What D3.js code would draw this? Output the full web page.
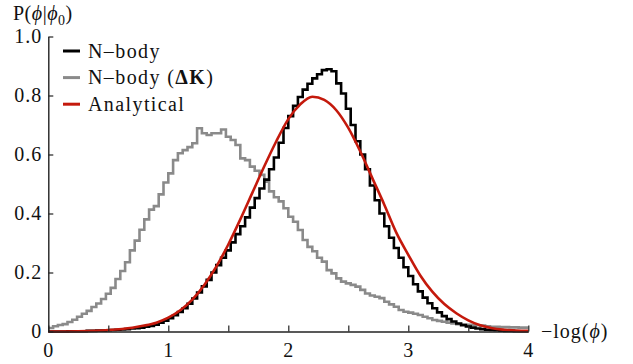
<!DOCTYPE html>
<html>
<head>
<meta charset="utf-8">
<script src="https://cdn.jsdelivr.net/npm/d3@7"></script>
<style>
  html, body { margin: 0; padding: 0; background: #fff; }
  svg text { font-family: "Liberation Serif", "Times New Roman", serif; fill: #111; }
</style>
</head>
<body>
<svg id="chart" width="633" height="364"></svg>
<script>
// ---- data ----
const binWidth = 0.04;

// N-body histogram (bin heights, bins of width 0.04 starting at 0)
const nbodyValues = [
  0, 0, 0, 0, 0.001, 0.001, 0.001, 0.001, 0.002, 0.002,
  0.003, 0.003, 0.004, 0.005, 0.006, 0.007, 0.008, 0.01, 0.011, 0.013,
  0.016, 0.019, 0.023, 0.03, 0.037, 0.045, 0.055, 0.066, 0.079, 0.094,
  0.112, 0.132, 0.153, 0.175, 0.2, 0.225, 0.25, 0.275, 0.302, 0.33,
  0.357, 0.387, 0.42, 0.452, 0.485, 0.515, 0.55, 0.59, 0.64, 0.69,
  0.73, 0.765, 0.795, 0.82, 0.84, 0.858, 0.872, 0.886, 0.889, 0.882,
  0.841, 0.807, 0.755, 0.70, 0.645, 0.60, 0.55, 0.495, 0.445, 0.40,
  0.357, 0.318, 0.283, 0.25, 0.218, 0.188, 0.16, 0.136, 0.115, 0.096,
  0.079, 0.065, 0.052, 0.042, 0.034, 0.027, 0.021, 0.017, 0.013, 0.01,
  0.008, 0.006, 0.005, 0.004, 0.003, 0.002, 0.002, 0.001, 0.001, 0.001
];

// N-body (ΔK) histogram
const nbodyDKValues = [
  0.012, 0.018, 0.022, 0.025, 0.032, 0.04, 0.05, 0.06, 0.07, 0.083,
  0.095, 0.11, 0.128, 0.148, 0.178, 0.205, 0.235, 0.275, 0.308, 0.345,
  0.38, 0.413, 0.425, 0.465, 0.505, 0.536, 0.581, 0.604, 0.615, 0.625,
  0.638, 0.689, 0.672, 0.666, 0.672, 0.672, 0.685, 0.66, 0.649, 0.632,
  0.587, 0.581, 0.559, 0.545, 0.531, 0.508, 0.475, 0.455, 0.441, 0.418,
  0.389, 0.372, 0.344, 0.31, 0.287, 0.272, 0.25, 0.237, 0.208, 0.197,
  0.18, 0.169, 0.163, 0.158, 0.152, 0.141, 0.129, 0.122, 0.118, 0.113,
  0.101, 0.092, 0.084, 0.073, 0.067, 0.064, 0.06, 0.056, 0.05, 0.045,
  0.039, 0.036, 0.033, 0.03, 0.027, 0.025, 0.024, 0.023, 0.022, 0.021,
  0.02, 0.018, 0.016, 0.016, 0.015, 0.015, 0.014, 0.014, 0.013, 0.013
];

// Analytical curve, sampled points
const analyticX = [0, 0.25, 0.5, 0.7, 0.8, 0.9, 1.0, 1.1, 1.2, 1.3, 1.4, 1.5, 1.6, 1.7, 1.8, 1.9,
  2.0, 2.1, 2.2, 2.3, 2.4, 2.5, 2.6, 2.7, 2.8, 2.9, 3.0, 3.1, 3.2, 3.3, 3.4, 3.5, 3.6, 3.7, 3.8, 3.9, 4.0];
const analyticY = [0, 0.001, 0.005, 0.013, 0.02, 0.03, 0.047, 0.072, 0.108, 0.158, 0.22, 0.295, 0.38, 0.47, 0.56, 0.645,
  0.72, 0.77, 0.796, 0.785, 0.75, 0.69, 0.61, 0.52, 0.43, 0.335, 0.26, 0.19, 0.135, 0.093, 0.062, 0.038, 0.021, 0.011, 0.006, 0.003, 0.002];

const xTicks = [0, 0.5, 1, 1.5, 2, 2.5, 3, 3.5, 4];
const yTicks = [0, 0.2, 0.4, 0.6, 0.8, 1.0];

const legendLabels = ["N–body", "N–body (", "Analytical"];
const colors = { nbody: "#000000", dk: "#8a8a8a", analytic: "#c4190c" };

// ---- drawing ----
const svg = d3.select("#chart");
const x = d3.scaleLinear().domain([0, 4]).range([48.3, 528.3]);
const y = d3.scaleLinear().domain([0, 1]).range([331.5, 36.5]);

function stepPoints(vals) {
  const pts = vals.map((v, i) => [i * binWidth, v]);
  pts.push([vals.length * binWidth, vals[vals.length - 1]]);
  return pts;
}

const stepLine = d3.line().x(d => x(d[0])).y(d => y(d[1])).curve(d3.curveStepAfter);

svg.append("path")
  .attr("d", stepLine(stepPoints(nbodyDKValues)))
  .attr("fill", "none").attr("stroke", colors.dk).attr("stroke-width", 2.6)
  .attr("stroke-linejoin", "miter");

svg.append("path")
  .attr("d", stepLine(stepPoints(nbodyValues)))
  .attr("fill", "none").attr("stroke", colors.nbody).attr("stroke-width", 2.6)
  .attr("stroke-linejoin", "miter");

const smooth = d3.line().x(d => x(d[0])).y(d => y(d[1])).curve(d3.curveMonotoneX);
svg.append("path")
  .attr("d", smooth(analyticX.map((v, i) => [v, analyticY[i]])))
  .attr("fill", "none").attr("stroke", colors.analytic).attr("stroke-width", 2.6);

// axes
const yAxis = d3.axisLeft(y).tickValues(yTicks).tickSizeInner(-5).tickSizeOuter(0).tickPadding(6)
  .tickFormat(d => d === 0 ? "0" : d3.format(".1f")(d));
const gy = svg.append("g").attr("transform", `translate(${x(0)},0)`).call(yAxis);

const xAxis = d3.axisBottom(x).tickValues(xTicks).tickSizeInner(-6).tickSizeOuter(0).tickPadding(11)
  .tickFormat(d => Number.isInteger(d) ? String(d) : "");
const gx = svg.append("g").attr("transform", `translate(0,${y(0)})`).call(xAxis);

[gx, gy].forEach(g => {
  g.select(".domain").attr("stroke", "#222").attr("stroke-width", 1.4);
  g.selectAll(".tick line").attr("stroke", "#222").attr("stroke-width", 1.2);
  g.selectAll(".tick text").attr("font-family", "'Liberation Serif', serif")
    .attr("font-size", 20).attr("fill", "#111").style("letter-spacing", "1px");
});

// y title  P(ϕ|ϕ0)
const yt = svg.append("text").attr("x", 13).attr("y", 20).attr("font-size", 20).style("letter-spacing", "0.5px");
yt.append("tspan").text("P(");
yt.append("tspan").attr("font-style", "italic").text("ϕ");
yt.append("tspan").text("|");
yt.append("tspan").attr("font-style", "italic").text("ϕ");
yt.append("tspan").attr("font-size", 14).attr("dy", 5).text("0");
yt.append("tspan").attr("dy", -5).text(")");

// x title  −log(ϕ)
const xt = svg.append("text").attr("x", 541).attr("y", 338).attr("font-size", 20).style("letter-spacing", "1px");
xt.append("tspan").text("−log(");
xt.append("tspan").attr("font-style", "italic").text("ϕ");
xt.append("tspan").text(")");

// legend
const legendRows = [
  { color: colors.nbody, label: legendLabels[0] },
  { color: colors.dk, label: legendLabels[1], extra: true },
  { color: colors.analytic, label: legendLabels[2] }
];
legendRows.forEach((r, i) => {
  const cy = 51 + i * 26.6;
  svg.append("line").attr("x1", 63).attr("x2", 80).attr("y1", cy).attr("y2", cy)
    .attr("stroke", r.color).attr("stroke-width", 3);
  const t = svg.append("text").attr("x", 88).attr("y", cy + 6.5).attr("font-size", 20)
    .style("letter-spacing", "1.4px");
  t.append("tspan").text(r.label);
  if (r.extra) {
    t.append("tspan").attr("font-weight", "bold").text("ΔK");
    t.append("tspan").text(")");
  }
});
</script>
</body>
</html>
